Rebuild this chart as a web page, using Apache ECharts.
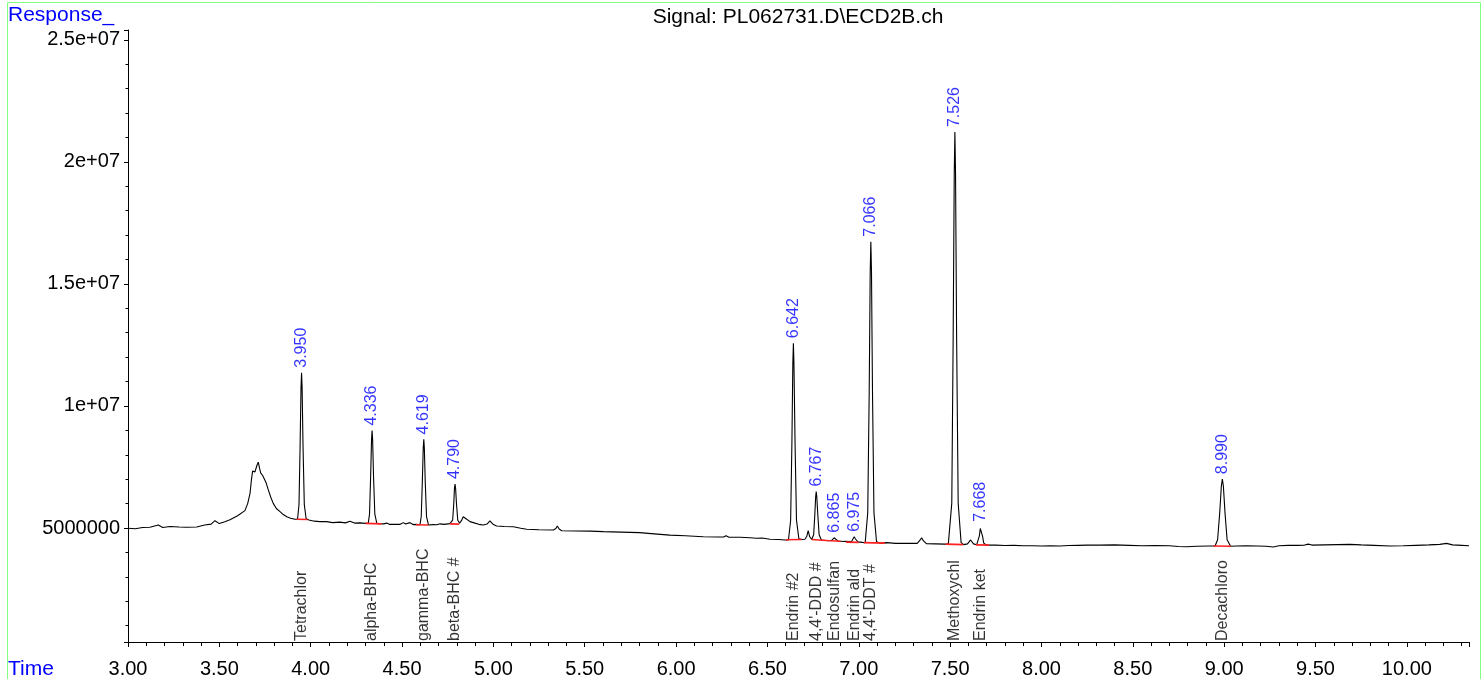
<!DOCTYPE html>
<html>
<head>
<meta charset="utf-8">
<script src="https://cdn.jsdelivr.net/npm/echarts@6/dist/echarts.min.js"></script>
<style>
  html, body { margin: 0; padding: 0; background: #fff; }
  #chart { width: 1482px; height: 679px; }
</style>
</head>
<body>
<div id="chart"></div>
<script>
// ---------- DATA ----------
const chartTitle = 'Signal: PL062731.D\\ECD2B.ch';
const yAxisName = 'Response_';
const xAxisName = 'Time';

// x axis (retention time, min)
const xMin = 3.0;
const xMax = 10.34;
const xTickStep = 0.5;

// y axis (response)
const yMin = 330000;
const yMax = 25400000;
const yTickValues = [5000000, 10000000, 15000000, 20000000, 25000000];
const yTickLabels = ['5000000', '1e+07', '1.5e+07', '2e+07', '2.5e+07'];

// chromatogram trace [time, response]
const trace = [
  [3.00, 4.99e6], [3.04, 4.97e6], [3.08, 5.02e6], [3.12, 5.03e6], [3.166, 5.12e6], [3.19, 5.02e6],
  [3.23, 5.06e6], [3.28, 5.04e6], [3.32, 5.03e6], [3.376, 5.04e6], [3.42, 5.12e6], [3.455, 5.16e6],
  [3.476, 5.30e6], [3.50, 5.18e6], [3.53, 5.26e6], [3.558, 5.34e6], [3.60, 5.50e6], [3.64, 5.71e6],
  [3.655, 6.0e6], [3.668, 6.42e6], [3.676, 7.0e6], [3.682, 7.33e6], [3.695, 7.30e6], [3.705, 7.55e6],
  [3.713, 7.70e6], [3.72, 7.45e6], [3.726, 7.26e6], [3.737, 7.15e6], [3.744, 7.08e6], [3.756, 6.85e6],
  [3.768, 6.56e6], [3.782, 6.25e6], [3.795, 6.01e6], [3.812, 5.80e6], [3.832, 5.67e6], [3.85, 5.55e6],
  [3.869, 5.46e6], [3.89, 5.40e6], [3.914, 5.36e6], [3.928, 5.36e6],
  [3.936, 5.96e6], [3.942, 8.36e6], [3.947, 10.76e6], [3.950, 11.36e6], [3.953, 10.76e6], [3.958, 8.36e6],
  [3.965, 5.96e6], [3.975, 5.38e6],
  [3.99, 5.33e6], [4.02, 5.28e6], [4.05, 5.26e6], [4.087, 5.26e6], [4.12, 5.22e6], [4.16, 5.24e6],
  [4.19, 5.21e6], [4.215, 5.28e6], [4.24, 5.20e6], [4.27, 5.21e6], [4.297, 5.19e6], [4.315, 5.19e6],
  [4.322, 5.57e6], [4.328, 7.09e6], [4.333, 8.61e6], [4.336, 8.99e6], [4.339, 8.61e6], [4.344, 7.09e6],
  [4.351, 5.57e6], [4.362, 5.19e6],
  [4.38, 5.18e6], [4.40, 5.17e6], [4.416, 5.20e6], [4.43, 5.15e6], [4.46, 5.15e6], [4.49, 5.15e6],
  [4.507, 5.22e6], [4.52, 5.16e6], [4.543, 5.22e6], [4.56, 5.14e6], [4.58, 5.15e6], [4.598, 5.13e6],
  [4.605, 5.47e6], [4.611, 6.88e6], [4.616, 8.28e6], [4.619, 8.63e6], [4.622, 8.28e6], [4.627, 6.88e6],
  [4.634, 5.47e6], [4.645, 5.12e6],
  [4.67, 5.14e6], [4.69, 5.13e6], [4.708, 5.17e6], [4.73, 5.15e6], [4.762, 5.18e6], [4.772, 5.17e6],
  [4.777, 5.32e6], [4.783, 5.98e6], [4.787, 6.64e6], [4.790, 6.80e6], [4.793, 6.64e6], [4.798, 5.98e6],
  [4.805, 5.32e6], [4.815, 5.20e6],
  [4.825, 5.30e6], [4.835, 5.46e6], [4.85, 5.38e6], [4.872, 5.26e6], [4.89, 5.22e6], [4.92, 5.15e6],
  [4.945, 5.12e6], [4.965, 5.16e6], [4.981, 5.29e6], [5.0, 5.14e6], [5.018, 5.08e6], [5.06, 5.06e6],
  [5.109, 5.05e6], [5.15, 4.99e6], [5.182, 4.95e6], [5.25, 4.93e6], [5.328, 4.92e6], [5.342, 4.98e6],
  [5.35, 5.08e6], [5.36, 4.96e6], [5.374, 4.89e6], [5.45, 4.88e6], [5.53, 4.87e6], [5.602, 4.85e6],
  [5.70, 4.83e6], [5.80, 4.81e6], [5.88, 4.76e6], [5.966, 4.71e6], [6.05, 4.68e6], [6.149, 4.64e6],
  [6.23, 4.63e6], [6.26, 4.63e6], [6.273, 4.68e6], [6.29, 4.62e6], [6.35, 4.62e6], [6.404, 4.60e6],
  [6.44, 4.58e6], [6.47, 4.59e6], [6.48, 4.55e6], [6.514, 4.54e6], [6.56, 4.53e6], [6.596, 4.51e6],
  [6.615, 4.51e6],
  [6.627, 5.32e6], [6.634, 8.54e6], [6.639, 11.76e6], [6.642, 12.57e6], [6.645, 11.76e6], [6.651, 8.54e6],
  [6.659, 5.32e6], [6.672, 4.56e6], [6.69, 4.53e6],
  [6.705, 4.54e6], [6.715, 4.65e6], [6.723, 4.89e6], [6.731, 4.65e6], [6.742, 4.53e6],
  [6.753, 4.72e6], [6.759, 5.50e6], [6.764, 6.29e6], [6.767, 6.49e6], [6.770, 6.29e6], [6.776, 5.50e6],
  [6.783, 4.72e6], [6.795, 4.51e6],
  [6.82, 4.49e6], [6.85, 4.48e6], [6.858, 4.53e6], [6.865, 4.60e6], [6.872, 4.53e6], [6.885, 4.47e6],
  [6.92, 4.45e6], [6.96, 4.44e6], [6.968, 4.55e6], [6.975, 4.64e6], [6.982, 4.55e6], [6.995, 4.43e6],
  [7.02, 4.41e6], [7.035, 4.40e6],
  [7.049, 5.63e6], [7.057, 10.57e6], [7.0625, 15.50e6], [7.066, 16.73e6], [7.0695, 15.50e6], [7.075, 10.57e6],
  [7.083, 5.63e6], [7.097, 4.45e6], [7.11, 4.39e6],
  [7.13, 4.38e6], [7.15, 4.40e6], [7.16, 4.46e6], [7.17, 4.39e6], [7.20, 4.37e6], [7.24, 4.37e6],
  [7.28, 4.37e6], [7.32, 4.37e6], [7.335, 4.50e6], [7.344, 4.60e6], [7.353, 4.48e6], [7.37, 4.36e6],
  [7.42, 4.35e6], [7.47, 4.34e6], [7.49, 4.34e6],
  [7.509, 6.02e6], [7.5165, 12.78e6], [7.5225, 19.53e6], [7.526, 21.22e6], [7.5295, 19.53e6], [7.5355, 12.78e6],
  [7.544, 6.02e6], [7.56, 4.40e6], [7.575, 4.32e6],
  [7.595, 4.35e6], [7.612, 4.51e6], [7.628, 4.35e6], [7.645, 4.31e6],
  [7.654, 4.38e6], [7.660, 4.68e6], [7.665, 4.98e6], [7.668, 5.05e6], [7.671, 4.98e6], [7.677, 4.68e6],
  [7.684, 4.38e6], [7.70, 4.30e6],
  [7.75, 4.30e6], [7.80, 4.28e6], [7.85, 4.29e6], [7.90, 4.27e6], [7.95, 4.27e6], [8.00, 4.26e6],
  [8.05, 4.27e6], [8.10, 4.26e6], [8.15, 4.28e6], [8.20, 4.29e6], [8.25, 4.30e6], [8.32, 4.30e6],
  [8.40, 4.31e6], [8.48, 4.29e6], [8.55, 4.27e6], [8.62, 4.28e6], [8.70, 4.27e6], [8.75, 4.24e6],
  [8.794, 4.23e6], [8.85, 4.25e6], [8.92, 4.26e6], [8.95, 4.26e6],
  [8.964, 4.52e6], [8.9755, 5.62e6], [8.9845, 6.72e6], [8.990, 7.00e6], [8.9955, 6.72e6], [9.0045, 5.62e6],
  [9.016, 4.52e6], [9.035, 4.25e6],
  [9.07, 4.26e6], [9.12, 4.27e6], [9.18, 4.26e6], [9.23, 4.25e6], [9.268, 4.22e6], [9.30, 4.27e6],
  [9.35, 4.29e6], [9.40, 4.29e6], [9.44, 4.30e6], [9.46, 4.34e6], [9.48, 4.30e6], [9.55, 4.31e6],
  [9.62, 4.32e6], [9.688, 4.33e6], [9.75, 4.31e6], [9.82, 4.29e6], [9.907, 4.26e6], [9.98, 4.27e6],
  [10.05, 4.29e6], [10.12, 4.31e6], [10.18, 4.33e6], [10.217, 4.37e6], [10.25, 4.31e6], [10.30, 4.29e6],
  [10.34, 4.27e6]
];

// integration baselines (red): [tStart, yStart, tEnd, yEnd]
const integrationBaselines = [
  [3.923, 5.36e6, 3.983, 5.35e6],
  [4.300, 5.19e6, 4.388, 5.17e6],
  [4.576, 5.13e6, 4.644, 5.12e6],
  [4.762, 5.17e6, 4.813, 5.16e6],
  [6.601, 4.52e6, 6.687, 4.53e6],
  [6.742, 4.53e6, 6.842, 4.48e6],
  [6.845, 4.48e6, 6.900, 4.46e6],
  [6.930, 4.42e6, 7.000, 4.41e6],
  [7.028, 4.40e6, 7.143, 4.38e6],
  [7.475, 4.34e6, 7.571, 4.32e6],
  [7.641, 4.31e6, 7.714, 4.30e6],
  [8.940, 4.26e6, 9.037, 4.25e6]
];

// identified peaks
const peakTimes = [3.950, 4.336, 4.619, 4.790, 6.642, 6.767, 6.865, 6.975, 7.066, 7.526, 7.668, 8.990];
const peakTops = [11.36e6, 8.99e6, 8.63e6, 6.80e6, 12.57e6, 6.49e6, 4.60e6, 4.64e6, 16.73e6, 21.22e6, 5.05e6, 7.00e6];
const peakLabels = ['3.950', '4.336', '4.619', '4.790', '6.642', '6.767', '6.865', '6.975', '7.066', '7.526', '7.668', '8.990'];
const compoundNames = ['Tetrachlor', 'alpha-BHC', 'gamma-BHC', 'beta-BHC #', 'Endrin #2', "4,4'-DDD #",
  'Endosulfan', 'Endrin ald', "4,4'-DDT #", 'Methoxychl', 'Endrin ket', 'Decachloro'];

// ---------- CHART ----------
const FONT = "'Liberation Sans', Arial, Helvetica, sans-serif";
const chart = echarts.init(document.getElementById('chart'), null, { renderer: 'canvas' });

const baselineSeries = integrationBaselines.map(s => ({
  type: 'line',
  data: [[s[0], s[1]], [s[2], s[3]]],
  showSymbol: false,
  silent: true,
  z: 4,
  lineStyle: { color: '#ff2020', width: 1.6 },
  animation: false
}));

const option = {
  animation: false,
  backgroundColor: '#ffffff',
  textStyle: { fontFamily: FONT },
  grid: { left: 128, right: 13, top: 30, bottom: 37, containLabel: false },
  xAxis: {
    type: 'value',
    min: xMin,
    max: xMax,
    interval: xTickStep,
    axisLine: { show: true, onZero: false, lineStyle: { color: '#000', width: 1 } },
    axisTick: { show: true, length: 5, lineStyle: { color: '#000' } },
    minorTick: { show: true, splitNumber: 5, length: 4, lineStyle: { color: '#000' } },
    splitLine: { show: false },
    minorSplitLine: { show: false },
    axisLabel: {
      color: '#000', fontSize: 20, fontFamily: FONT, margin: 17,
      formatter: v => (Math.abs(v / xTickStep - Math.round(v / xTickStep)) < 1e-6 ? v.toFixed(2) : '')
    }
  },
  yAxis: {
    type: 'value',
    min: yMin,
    max: yMax,
    minInterval: 5000000,
    maxInterval: 5000000,
    axisLine: { show: true, onZero: false, lineStyle: { color: '#000', width: 1 } },
    axisTick: { show: true, length: 4, lineStyle: { color: '#000' } },
    minorTick: { show: true, splitNumber: 5, length: 2.5, lineStyle: { color: '#000' } },
    splitLine: { show: false },
    minorSplitLine: { show: false },
    axisLabel: {
      color: '#000', fontSize: 20, fontFamily: FONT, margin: 8,
      formatter: v => {
        const i = yTickValues.indexOf(v);
        return i >= 0 ? yTickLabels[i] : '';
      }
    }
  },
  graphic: [
    { type: 'rect', shape: { x: 7.5, y: 2.5, width: 1473, height: 700 }, style: { fill: 'none', stroke: '#80ff80', lineWidth: 1 }, silent: true, z: 0 },
    { type: 'text', x: 8, y: 15, style: { text: yAxisName, fill: '#0000ff', font: '21px ' + FONT, textVerticalAlign: 'middle' } },
    { type: 'text', x: 8, y: 669, style: { text: xAxisName, fill: '#0000ff', font: '21px ' + FONT, textVerticalAlign: 'middle' } },
    { type: 'text', x: 798, y: 17, style: { text: chartTitle, fill: '#000', font: '21px ' + FONT, textAlign: 'center', textVerticalAlign: 'middle' } }
  ],
  series: [
    {
      type: 'line',
      data: trace,
      showSymbol: false,
      silent: true,
      z: 3,
      lineStyle: { color: '#000', width: 1.1 },
      animation: false
    },
    ...baselineSeries,
    {
      type: 'scatter',
      data: peakTimes.map((t, i) => [t, peakTops[i]]),
      symbolSize: 0,
      clip: false,
      silent: true,
      z: 5,
      label: {
        show: true,
        position: 'inside',
        rotate: 90,
        align: 'left',
        verticalAlign: 'middle',
        padding: [0, 0, 0, 5],
        color: '#0000ff',
        fontSize: 16,
        fontFamily: FONT,
        formatter: p => peakLabels[p.dataIndex]
      }
    },
    {
      type: 'scatter',
      data: peakTimes.map(t => [t, yMin]),
      symbolSize: 0,
      clip: false,
      silent: true,
      z: 5,
      label: {
        show: true,
        position: 'inside',
        rotate: 90,
        align: 'left',
        verticalAlign: 'middle',
        padding: [0, 0, 0, 1],
        color: '#000',
        fontSize: 16,
        fontFamily: FONT,
        formatter: p => compoundNames[p.dataIndex]
      }
    }
  ]
};
chart.setOption(option);
</script>
</body>
</html>
